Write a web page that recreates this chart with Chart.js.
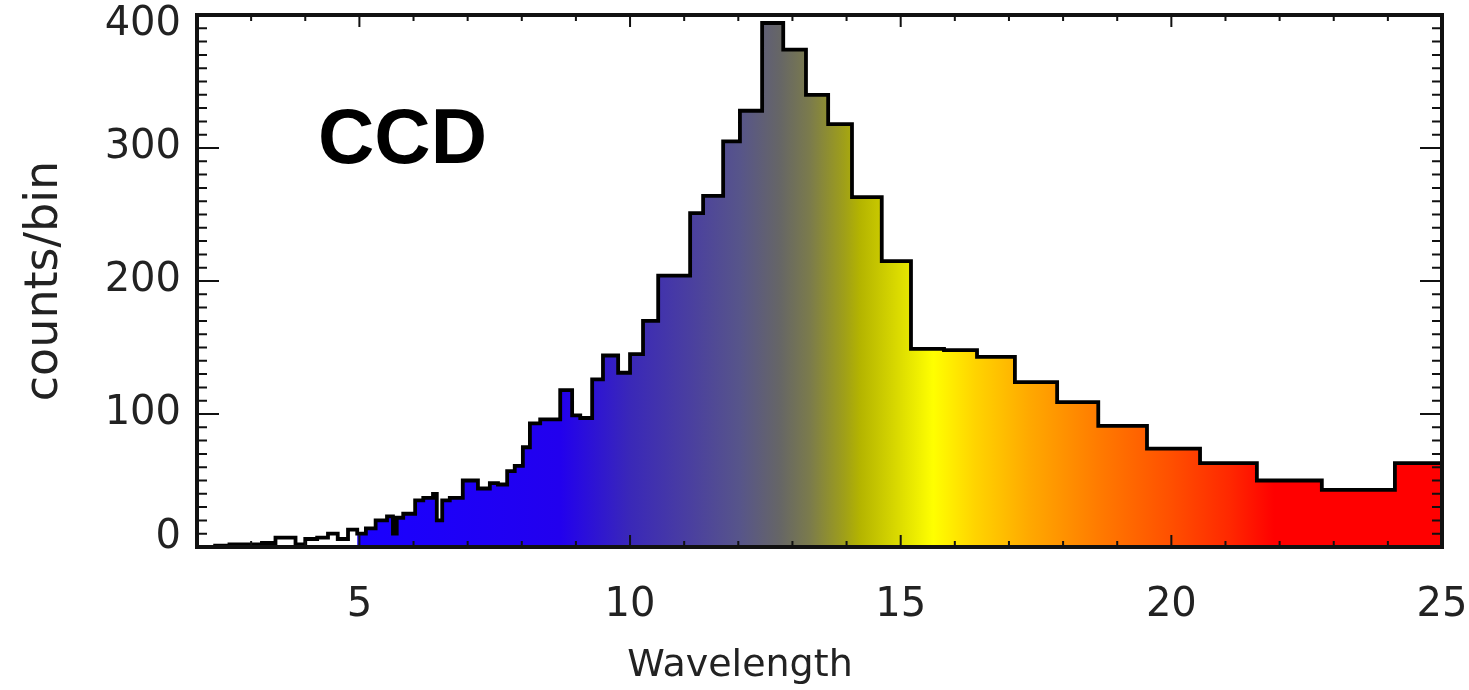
<!DOCTYPE html>
<html lang="en">
<head>
<meta charset="UTF-8" />
<title>CCD counts per bin</title>
<script src="https://cdn.jsdelivr.net/npm/chart.js"></script>
<style>
  html, body { margin: 0; padding: 0; background: #fff; }
  canvas { display: block; }
</style>
</head>
<body>
<canvas id="myChart" width="1469" height="690"></canvas>
<script>
// bin edges (wavelength) and counts per bin
const binEdges = [
  2.3, 2.6, 2.9, 3.2, 3.45, 3.82, 4.0, 4.22, 4.42, 4.6,
  4.79, 4.96, 5.12, 5.3, 5.51, 5.62, 5.69, 5.81, 6.03, 6.18,
  6.36, 6.43, 6.53, 6.67, 6.91, 7.19, 7.41, 7.56, 7.73, 7.87,
  8.02, 8.15, 8.34, 8.71, 8.93, 9.08, 9.3, 9.5, 9.78, 10.0,
  10.24, 10.52, 11.11, 11.35, 11.72, 12.03, 12.44, 12.83, 13.25, 13.66,
  14.1, 14.65, 15.19, 15.8, 16.41, 17.11, 17.89, 18.65, 19.55, 20.53,
  21.58, 22.78, 24.13, 25.0
];
const counts = [
  1, 2, 2, 3, 7, 2, 6, 7, 10, 6,
  13, 10, 14, 20, 23, 10, 22, 25, 35, 37,
  40, 20, 35, 37, 50, 44, 48, 47, 57, 61,
  75, 93, 96, 118, 99, 97, 126, 144, 131, 145,
  170, 204, 251, 264, 305, 328, 394, 374, 340, 318,
  263, 215, 149, 148, 143, 124, 109, 91, 74, 63,
  50, 43, 63
];
const xTicks = [5, 10, 15, 20, 25];
const yTicks = [0, 100, 200, 300, 400];
const xMin = 2, xMax = 25;
const yMin = 0, yMax = 400;

// colour ramp of the fill, by wavelength
const rampStops = [
  [4.95, "#ffffff"], [4.97, "#1a00ff"], [8.7, "#2200ee"], [10.0, "#3a28b8"],
  [11.1, "#4a3fa0"], [12.03, "#57558a"], [12.77, "#666666"], [13.32, "#7b7b4c"],
  [13.97, "#a0a018"], [14.25, "#b4b400"], [14.8, "#d2d200"], [15.6, "#ffff00"],
  [16.37, "#ffd400"], [17.39, "#ffa800"], [18.68, "#ff7a00"], [19.98, "#ff5000"],
  [21.08, "#ff2800"], [21.9, "#ff0000"], [25.0, "#ff0000"]
];

const pontos = binEdges.map((x, i) => ({ x: x, y: counts[Math.min(i, counts.length - 1)] }));

const gradiente = (chart) => {
  const { ctx, chartArea, scales } = chart;
  if (!chartArea) return "transparent";
  const x0 = scales.x.getPixelForValue(xMin);
  const x1 = scales.x.getPixelForValue(xMax);
  const g = ctx.createLinearGradient(x0, 0, x1, 0);
  rampStops.forEach(([w, c]) => {
    const p = (scales.x.getPixelForValue(w) - x0) / (x1 - x0);
    g.addColorStop(Math.min(1, Math.max(0, p)), c);
  });
  return g;
};

// end labels sit inside the frame, like the original plot
const rotuloY = (v) => {
  if (v === yMax) return ["", String(v)];
  if (v === yMin) return [String(v), ""];
  return String(v);
};
const fonteY = (c) => {
  const v = c.tick ? c.tick.value : null;
  const lh = v === yMax ? "20px" : v === yMin ? "18px" : 1.2;
  return { family: "DejaVu Sans", size: 40, lineHeight: lh };
};

const moldura = {
  id: "moldura",
  afterDatasetsDraw(chart) {
    const { ctx, chartArea: a, scales: { x, y } } = chart;
    ctx.save();
    ctx.strokeStyle = "#111";
    ctx.lineWidth = 2;
    ctx.beginPath();
    for (let v = yMin; v <= yMax; v += 10) {
      const py = y.getPixelForValue(v);
      const len = v % 100 === 0 ? 22 : 10;
      ctx.moveTo(a.left, py); ctx.lineTo(a.left + len, py);
      ctx.moveTo(a.right, py); ctx.lineTo(a.right - len, py);
    }
    for (let v = 3; v <= xMax; v++) {
      const px = x.getPixelForValue(v);
      const len = v % 5 === 0 ? 12 : 6;
      ctx.moveTo(px, a.bottom); ctx.lineTo(px, a.bottom - len);
      ctx.moveTo(px, a.top); ctx.lineTo(px, a.top + len);
    }
    ctx.stroke();
    ctx.lineWidth = 4;
    ctx.strokeRect(a.left, a.top, a.right - a.left, a.bottom - a.top);

    ctx.fillStyle = "#000";
    ctx.textBaseline = "alphabetic";
    ctx.textAlign = "left";
    ctx.font = 'bold 78px "Liberation Sans", Arial, sans-serif';
    ctx.fillText("CCD", 318, 163);

    ctx.fillStyle = "#222";
    ctx.textAlign = "center";
    ctx.font = '38px "DejaVu Sans", sans-serif';
    ctx.fillText("Wavelength", 740, 676);
    ctx.restore();
  }
};

new Chart(document.getElementById("myChart"), {
  type: "line",
  data: {
    datasets: [
      {
        label: "CCD",
        data: pontos,
        stepped: "before",
        borderColor: "#000",
        borderWidth: 3.8,
        pointRadius: 0,
        fill: "origin",
        backgroundColor: (c) => gradiente(c.chart),
      },
    ],
  },
  options: {
    responsive: false,
    animation: false,
    devicePixelRatio: 1,
    layout: { padding: { left: 0, right: 27, top: 15, bottom: 0 } },
    plugins: { legend: { display: false }, tooltip: { enabled: false } },
    scales: {
      x: {
        type: "linear",
        min: xMin,
        max: xMax,
        grid: { display: false, drawTicks: false },
        border: { display: false },
        afterBuildTicks: (s) => { s.ticks = xTicks.map((v) => ({ value: v })); },
        afterFit: (s) => { s.height = 143; s.paddingLeft = 0; s.paddingRight = 0; },
        ticks: {
          color: "#222",
          padding: 35,
          maxRotation: 0,
          font: { family: "DejaVu Sans", size: 40 },
        },
      },
      y: {
        min: yMin,
        max: yMax,
        grid: { display: false, drawTicks: false },
        border: { display: false },
        afterBuildTicks: (s) => { s.ticks = yTicks.map((v) => ({ value: v })); },
        afterFit: (s) => { s.width = 197; s.paddingTop = 0; s.paddingBottom = 0; },
        ticks: {
          color: "#222",
          padding: 16,
          callback: rotuloY,
          font: fonteY,
        },
        title: {
          display: true,
          text: "counts/bin",
          color: "#222",
          padding: { top: 17, bottom: 0 },
          font: { family: "DejaVu Sans", size: 46 },
        },
      },
    },
  },
  plugins: [moldura],
});
</script>
</body>
</html>
